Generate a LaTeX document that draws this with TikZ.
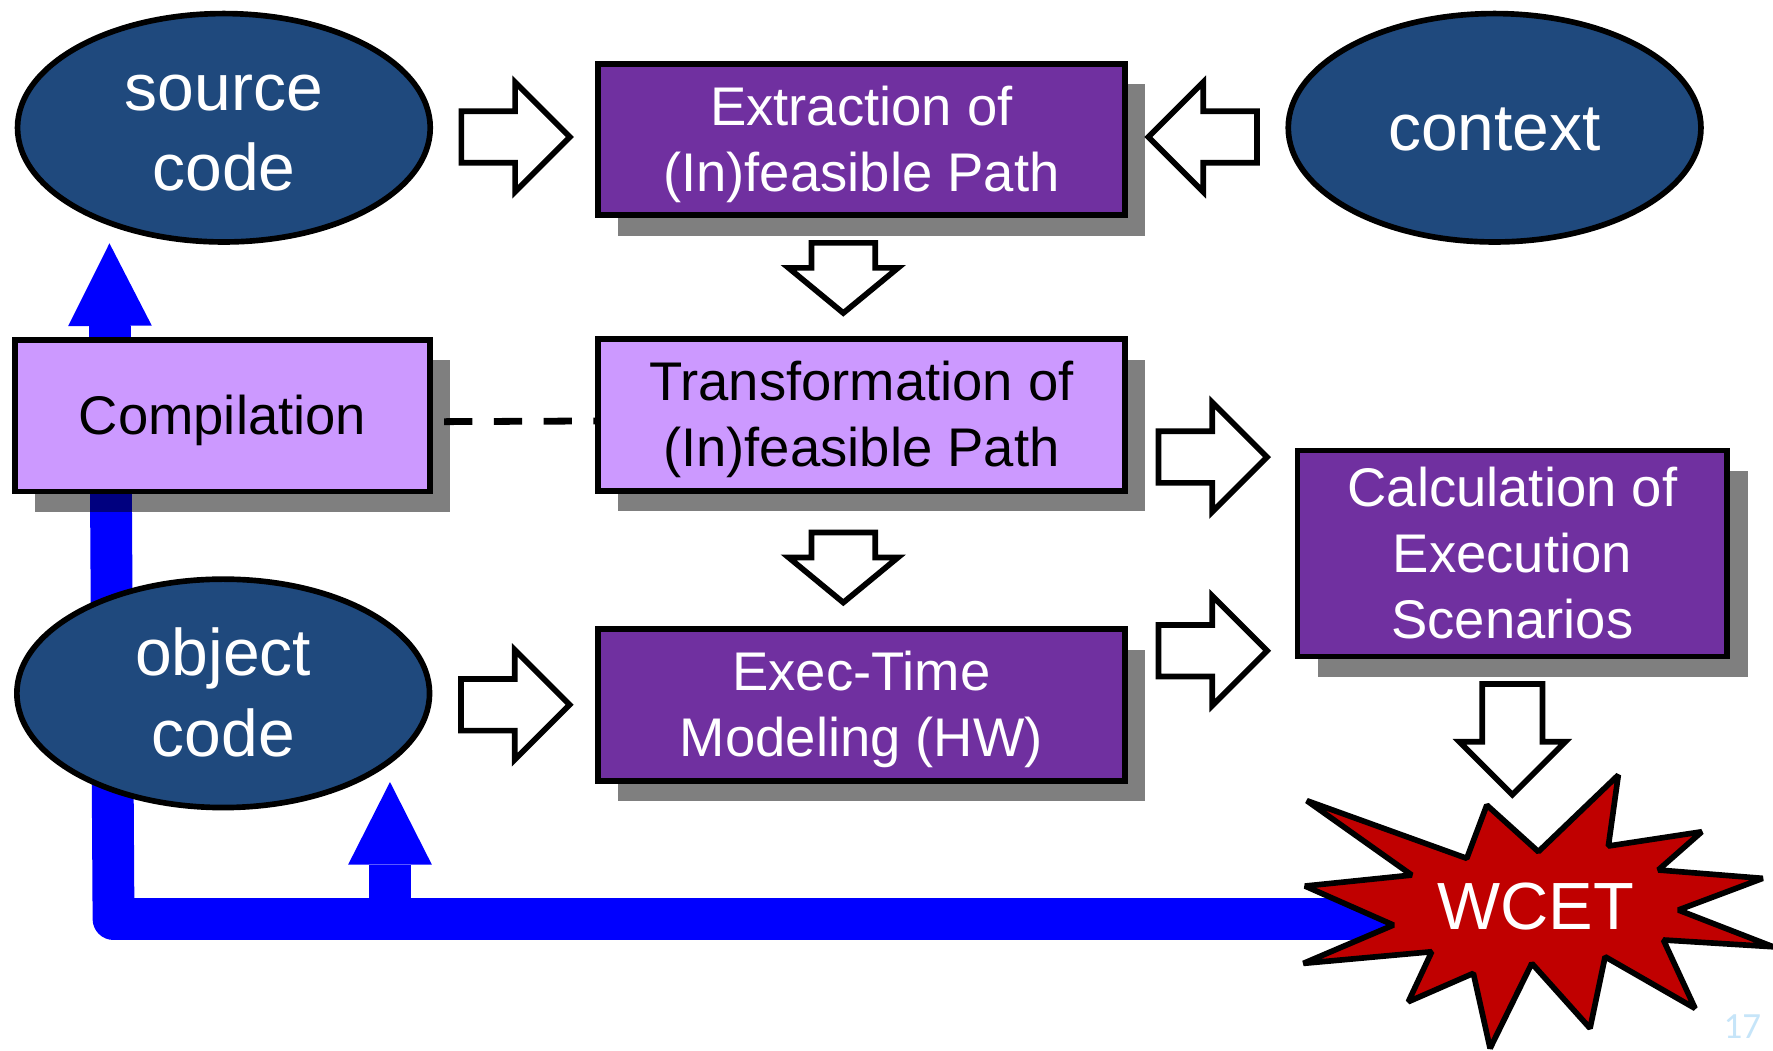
\documentclass[tikz,border=0pt]{standalone}
\usepackage{fontspec}
\setmainfont{Liberation Sans}
\newfontfamily\slidefont{Carlito}
\usepackage{tikz}
\usetikzlibrary{positioning,arrows.meta,shapes.geometric,shapes.arrows,calc,backgrounds,shadows}
\definecolor{codeblue}{HTML}{1F497D}
\definecolor{stagedark}{HTML}{7030A0}
\definecolor{stagelight}{HTML}{CC99FF}
\definecolor{burstred}{HTML}{C00000}
\definecolor{loopblue}{HTML}{0000FF}
\definecolor{slideno}{HTML}{C6E5F9}
\newcommand{\tstrut}{\rule[-0.212em]{0pt}{1.117em}}
\tikzset{
  artefact/.style ={ellipse, draw=black, fill=codeblue, line width=0.5mm, text=white, align=flush center,
                    text width=24mm, inner sep=0pt, minimum width=36.5mm, minimum height=20.2mm,
                    font=\fontsize{16.6}{20.3}\selectfont,
                    execute at begin node=\tstrut, execute at end node=\tstrut},
  stage/.style    ={rectangle, draw=black, fill=#1, line width=0.5mm, align=flush center,
                    text width=42mm, inner xsep=0.8mm, inner ysep=0.3mm,
                    minimum width=46.6mm, minimum height=13.4mm,
                    font=\fontsize{13.7}{16.6}\selectfont,
                    execute at begin node=\tstrut, execute at end node=\tstrut,
                    drop shadow={shadow xshift=1.8mm, shadow yshift=-1.8mm, fill=black, opacity=0.5}},
  hollowarr/.style={single arrow, draw=black, fill=white, line width=0.5mm, inner xsep=0pt, inner ysep=2.03mm,
                    minimum height=9.6mm, minimum width=9.2mm, single arrow head extend=2.57mm, single arrow tip angle=90},
  shortarr/.style ={hollowarr, minimum height=6.2mm, inner ysep=2.57mm, single arrow head extend=2.02mm,
                    single arrow tip angle=101},
  loopline/.style ={draw=loopblue, line width=3.7mm, line join=round,
                    -{Triangle[length=7.3mm, width=7.4mm, line width=0pt]}},
  linkline/.style ={line width=0.6mm, dash pattern=on 2.5mm off 1.9mm},
  burst/.style    ={draw=black, fill=burstred, line width=0.5mm, line join=bevel},
  result/.style   ={text=white, inner sep=0pt, font=\fontsize{16.8}{20}\selectfont, execute at begin node=\tstrut},
}

\begin{document}
\begin{tikzpicture}[x=0.1mm, y=-0.1mm]
\useasboundingbox (0,0) rectangle (1568,929);
% inputs
\node[artefact] (src) at (198,113) {source\\code};
\node[artefact] (ctx) at (1321.8,113) {context};
\node[artefact] (obj) at (197.4,613.2) {object\\code};
% analysis stages
\node[stage=stagedark, text=white] (ext) at (761.8,123.4) {Extraction of\\(In)feasible Path};
\node[stage=stagelight] (trf) at (761.8,367) {Transformation of\\(In)feasible Path};
\node[stage=stagedark, text=white] (exe) at (761.8,623.5) {Exec-Time\\Modeling (HW)};
\node[stage=stagelight, text width=32mm, minimum width=36.7mm] (comp) at (196.8,367.6) {Compilation};
\node[stage=stagedark, text=white, text width=34mm, minimum width=38mm, minimum height=18.2mm] (calc)
  at (1337.5,489.5) {Calculation of\\Execution\\Scenarios};
% result burst
\draw[burst] (1155.7,708.1) -- (1248.5,773.9) -- (1154.1,783.6) -- (1232.3,818.1) -- (1152.7,852.0)
  -- (1266.2,841.7) -- (1245.5,885.9) -- (1303.0,860.8) -- (1317.8,927.1) -- (1354.7,852.0)
  -- (1406.2,909.4) -- (1419.5,846.1) -- (1499.1,891.8) -- (1471.1,831.3) -- (1568.1,837.3)
  -- (1484.3,804.8) -- (1558.9,776.8) -- (1466.6,769.4) -- (1505.0,735.6) -- (1422.4,748.2)
  -- (1431.2,685.4) -- (1360.5,753.2) -- (1314.9,712.0) -- (1297.2,759.1) -- cycle;
\node[result] (wcet) at (1358,802) {WCET};
% block arrows between stages
\node[hollowarr] (a1) at ($(src.east)!0.5!(ext.west)+(-10,3)$) {};
\node[hollowarr, rotate=180] (a2) at ($(ctx.west)!0.5!(ext.east)+(8,3)$) {};
\node[shortarr, rotate=-90] (a3) at ($(ext.south)!0.5!(trf.north)+(-16,-11)$) {};
\node[shortarr, rotate=-90] (a4) at ($(trf.south)!0.5!(exe.north)+(-16,-5)$) {};
\node[hollowarr] (a5) at ($(trf.east)!0.5!(calc.west)+(-10,-24)$) {};
\node[hollowarr] (a6) at ($(exe.east)!0.5!(calc.west)+(-10,19)$) {};
\node[hollowarr] (a7) at ($(obj.east)!0.5!(exe.west)+(-10,5)$) {};
\node[hollowarr, rotate=-90, minimum height=9.8mm, minimum width=8.9mm, inner ysep=2.42mm,
  single arrow head extend=2.02mm] (a8) at ($(calc.south)+(0,57.5)$) {};
\draw[linkline] ($(comp.east)+(10,5.3)$) -- ($(trf.west)+(0,5.3)$);
\node[font=\slidefont\fontsize{9.3}{11}\selectfont, text=slideno, inner sep=0pt] (pageno) at (1541,908) {17};
% feedback loop
\begin{scope}[on background layer]
\fill[white] (0,0) rectangle (1568,929);
\coordinate (fbbend) at (100.4,812.8);
\coordinate (srctip) at (96.8,215.2);
\coordinate (objtip) at (344.9,691.6);
\draw[loopline] (wcet.center |- fbbend) -- (fbbend) -- (srctip);
\draw[loopline] (objtip |- fbbend) -- (objtip);
\end{scope}
\end{tikzpicture}
\end{document}
